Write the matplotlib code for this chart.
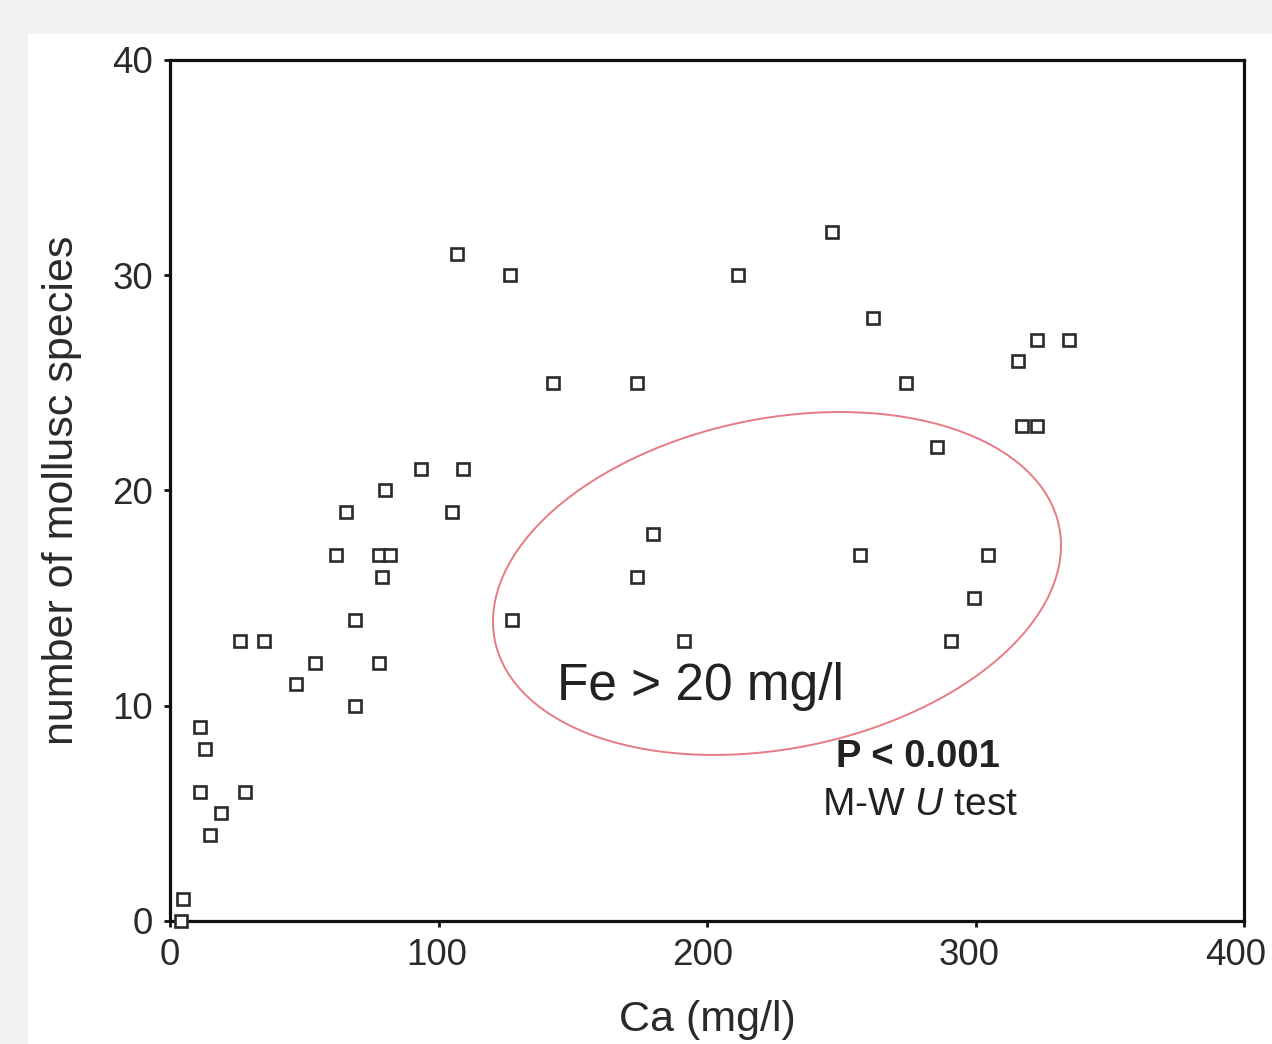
import matplotlib
matplotlib.use("Agg")
import matplotlib.pyplot as plt
from matplotlib.patches import Ellipse, Rectangle
from matplotlib.transforms import Affine2D, ScaledTranslation

plt.rcParams['font.family'] = ['Liberation Sans', 'DejaVu Sans']
plt.rcParams['mathtext.fontset'] = 'custom'
plt.rcParams['mathtext.it'] = 'Liberation Sans:italic'
plt.rcParams['mathtext.rm'] = 'Liberation Sans'

ca = [4, 5, 11, 13, 11, 28, 19, 15, 26, 35, 47, 54, 69, 69, 62, 65.5, 80, 78, 82, 79, 78,
      93.5, 109, 105, 107, 126.5, 142.5, 127.5, 174, 174, 180, 191.5, 211.5, 246.5, 262,
      257, 274, 285.5, 291, 299.5, 304.5, 316, 323, 335, 317.5, 323]
species = [0, 1, 9, 8, 6, 6, 5, 4, 13, 13, 11, 12, 10, 14, 17, 19, 20, 17, 17, 16, 12,
           21, 21, 19, 31, 30, 25, 14, 25, 16, 18, 13, 30, 32, 28,
           17, 25, 22, 13, 15, 17, 26, 27, 27, 23, 23]

x_ticks = [0, 100, 200, 300, 400]
y_ticks = [0, 10, 20, 30, 40]

W, H = 1272, 1044
fig = plt.figure(figsize=(W / 100, H / 100), dpi=100)
fig.patch.set_facecolor('#f2f2f2')
fig.patches.append(Rectangle((28 / W, 0), 1 - 28 / W, (H - 34) / H,
                             transform=fig.transFigure, facecolor='white',
                             edgecolor='none', zorder=-5))

ax = fig.add_axes([170 / W, (H - 921) / H, (1244 - 170) / W, (921 - 60) / H])
ax.set_zorder(1)
ax.set_facecolor('white')
ax.set_xlim(0, 400)
ax.set_ylim(0, 40)
ax.set_xticks(x_ticks)
ax.set_yticks(y_ticks)
for s in ax.spines.values():
    s.set_linewidth(2.3)
    s.set_color('#111111')
ax.tick_params(direction='out', length=4, width=2, colors='#111111',
               labelsize=26.5, labelcolor='#2a2a2a', pad=8)

# nudge the x tick labels slightly left as in the reference
for i, lab in enumerate(ax.get_xticklabels()):
    dx = -2.0 * i / 100
    lab.set_transform(lab.get_transform() + ScaledTranslation(dx, 0, fig.dpi_scale_trans))

ax.plot(ca, species, linestyle='none', marker='s', markersize=8.8,
        markerfacecolor='white', markeredgecolor='#2a2a2a', markeredgewidth=1.9,
        clip_on=False, zorder=3)

ax.set_xlabel('Ca (mg/l)', fontsize=31, color='#2a2a2a', labelpad=20)
ax.set_ylabel('number of mollusc species', fontsize=31, color='#2a2a2a', labelpad=22)

# ellipse drawn in figure pixel space
pix = Affine2D().scale(1 / W, 1 / H) + fig.transFigure
ell = Ellipse((777, H - 583.5), 2 * 287.8, 2 * 165, angle=11.4, transform=pix,
              fill=False, edgecolor='#e57b84', linewidth=1.4, zorder=10)
fig.patches.append(ell)

ax.text(197.4, 10.9, 'Fe > 20 mg/l', fontsize=37, color='#222222',
        ha='center', va='center')
ax.text(278.6, 7.6, 'P < 0.001', fontsize=27.5, fontweight='bold', color='#222222',
        ha='center', va='center')
ax.text(279.3, 5.4, 'M-W $U$ test', fontsize=28, color='#222222',
        ha='center', va='center')

fig.savefig('out.png', dpi=100, facecolor=fig.get_facecolor())
